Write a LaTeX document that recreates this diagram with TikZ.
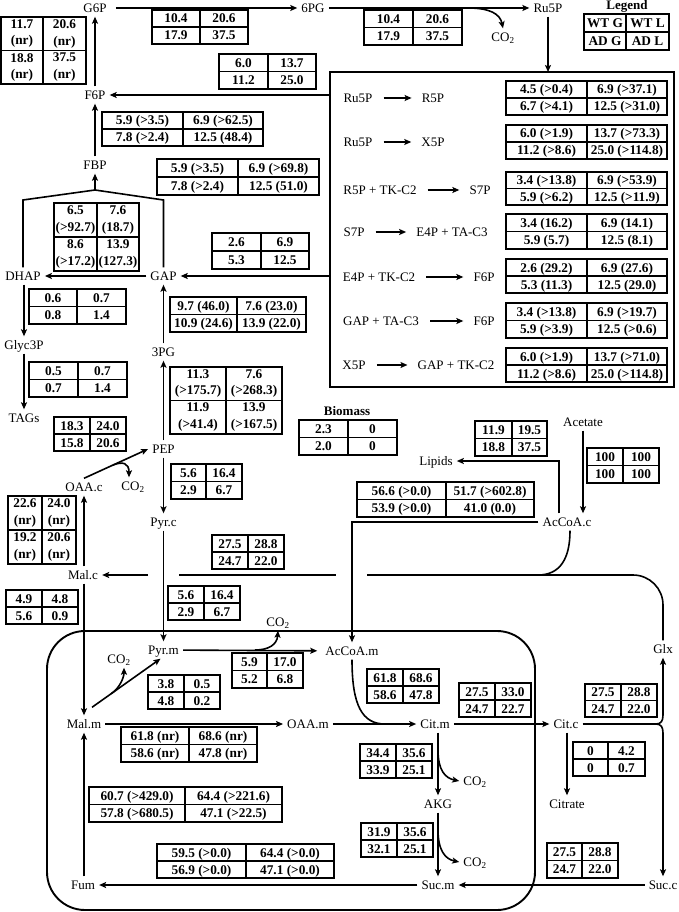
\documentclass[tikz,border=0pt]{standalone}
\usepackage{fontspec}
\setmainfont{Liberation Serif}
\usetikzlibrary{arrows.meta,calc}
\newcounter{flxtc}
\newcommand{\flxtab}[9]{%
 \stepcounter{flxtc}%
 \pgfmathsetmacro\tya{#4+(#5-#4)/4}%
 \pgfmathsetmacro\tyb{#4+3*(#5-#4)/4}%
 \pgfmathsetmacro\tym{(#4+#5)/2}%
 \pgfmathsetmacro\txa{(#1+#2)/2}%
 \pgfmathsetmacro\txb{(#2+#3)/2}%
 \draw[tbline] (#1,#4) rectangle (#3,#5) (#1,\tym) -- (#3,\tym) (#2,#4) -- (#2,#5);
 \node[cell] (t\theflxtc a) at (\txa,\tya) {#6};
 \node[cell] (t\theflxtc b) at (\txb,\tya) {#7};
 \node[cell] (t\theflxtc c) at (\txa,\tyb) {#8};
 \node[cell] (t\theflxtc d) at (\txb,\tyb) {#9};
}
\newcommand{\flxtabb}[9]{%
 \stepcounter{flxtc}%
 \pgfmathsetmacro\tym{(#4+#5)/2}%
 \pgfmathsetmacro\tya{#4+(#5-#4)/4}%
 \pgfmathsetmacro\tyb{#4+3*(#5-#4)/4}%
 \pgfmathsetmacro\txa{(#1+#2)/2}%
 \pgfmathsetmacro\txb{(#2+#3)/2}%
 \draw[tbline] (#1,#4) rectangle (#3,#5) (#1,\tym) -- (#3,\tym) (#2,#4) -- (#2,#5);
 \node[cellii] (t\theflxtc a) at (\txa,\tya) {#6};
 \node[cellii] (t\theflxtc b) at (\txb,\tya) {#7};
 \node[cellii] (t\theflxtc c) at (\txa,\tyb) {#8};
 \node[cellii] (t\theflxtc d) at (\txb,\tyb) {#9};
}
\begin{document}
\begin{tikzpicture}[x=1pt,y=-1pt,
 lab/.style={font=\fontsize{13}{15}\selectfont, text height=9pt, text depth=0pt, inner xsep=4pt, inner ysep=4pt},
 blab/.style={lab, font=\fontsize{13}{15}\selectfont\bfseries},
 arr/.style={-{Stealth[length=7pt,width=6pt,inset=1.5pt]}, line width=1.6pt},
 rarr/.style={arr, shorten <=7pt, shorten >=6pt},
 ln/.style={line width=1.6pt},
 tbline/.style={line width=1.35pt},
 cell/.style={font=\fontsize{13.3}{16.5}\selectfont\bfseries, inner sep=0pt, text height=9pt, text depth=0pt},
 cellii/.style={font=\fontsize{13.3}{16.5}\selectfont\bfseries, inner sep=0pt, align=center},
]
\useasboundingbox (0,0) rectangle (678,912);

% compartments
\node[draw, line width=2.2pt, minimum width=344pt, minimum height=315pt, anchor=north west, inner sep=0pt, outer sep=0pt] (ppp) at (330,72) {};
\node[draw, line width=1.9pt, rounded corners=38pt, minimum width=488pt, minimum height=279pt, anchor=north west, inner sep=0pt, outer sep=0pt] (mito) at (47,631) {};

% metabolites
\node[lab] (g6p) at (95,8) {G6P};
\node[lab] (pg6) at (313,8) {6PG};
\node[lab] (ru5p) at (548,8) {Ru5P};
\node[lab] (co2a) at (503,37) {CO\textsubscript{2}};
\node[blab] (legend) at (627,5) {Legend};
\node[lab] (f6p) at (95,95) {F6P};
\node[lab] (fbp) at (95,165) {FBP};
\node[lab] (dhap) at (23,276) {DHAP};
\node[lab] (gap) at (163.5,276) {GAP};
\node[lab] (glyc) at (24,345) {Glyc3P};
\node[lab] (tags) at (24,418) {TAGs};
\node[lab] (pg3) at (163.5,352) {3PG};
\node[lab] (pep) at (163.5,449) {PEP};
\node[lab] (oaac) at (84,487) {OAA.c};
\node[lab] (co2b) at (133,486) {CO\textsubscript{2}};
\node[lab] (pyrc) at (163.5,522) {Pyr.c};
\node[lab] (malc) at (83,575) {Mal.c};
\node[blab] (biomass) at (347,411) {Biomass};
\node[lab] (lipids) at (436,461) {Lipids};
\node[lab] (acetate) at (583,422) {Acetate};
\node[lab] (accoac) at (567,522) {AcCoA.c};
\node[lab] (pyrm) at (163.5,650) {Pyr.m};
\node[lab] (co2c) at (278,622) {CO\textsubscript{2}};
\node[lab] (accoam) at (352,651) {AcCoA.m};
\node[lab] (co2d) at (119,659) {CO\textsubscript{2}};
\node[lab] (malm) at (84,724) {Mal.m};
\node[lab] (oaam) at (308,724) {OAA.m};
\node[lab] (citm) at (435,724) {Cit.m};
\node[lab] (citc) at (566,724) {Cit.c};
\node[lab] (glx) at (663,649) {Glx};
\node[lab] (citrate) at (567,804) {Citrate};
\node[lab] (co2e) at (475,781) {CO\textsubscript{2}};
\node[lab] (akg) at (438,804) {AKG};
\node[lab] (co2f) at (475,862) {CO\textsubscript{2}};
\node[lab] (sucm) at (438,885) {Suc.m};
\node[lab] (succ) at (663,885) {Suc.c};
\node[lab] (fum) at (83,885) {Fum};

% reactions inside the pentose phosphate box
\node[lab] (ra1) at (358,98) {Ru5P};        \node[lab] (rb1) at (433,98) {R5P};
\node[lab] (ra2) at (358,142) {Ru5P};       \node[lab] (rb2) at (433,142) {X5P};
\node[lab] (ra3) at (380,190) {R5P + TK-C2}; \node[lab] (rb3) at (480,190) {S7P};
\node[lab] (ra4) at (354,232) {S7P};        \node[lab] (rb4) at (452,232) {E4P + TA-C3};
\node[lab] (ra5) at (379,277) {E4P + TK-C2}; \node[lab] (rb5) at (484,277) {F6P};
\node[lab] (ra6) at (381,321) {GAP + TA-C3}; \node[lab] (rb6) at (484,321) {F6P};
\node[lab] (ra7) at (354,365) {X5P};        \node[lab] (rb7) at (456,365) {GAP + TK-C2};
\foreach \i in {1,...,7} \draw[rarr] (ra\i) -- (rb\i);

% connectors
\draw[arr, shorten <=5pt] (g6p) -- (pg6);
\draw[arr] (pg6) -- (ru5p);
\coordinate (c1) at (468,8);
\draw[arr] (c1) .. controls (490,8) and (500,14) .. (co2a.north);
\draw[arr] (ru5p) -- (ru5p |- ppp.north);
\draw[arr] (ppp.west |- f6p) -- (f6p);
\draw[arr] (f6p) -- (g6p);
\draw[arr] (fbp) -- (f6p);
\coordinate (apex) at (95,190);
\coordinate (ytop) at (0,200);
\draw[ln] (dhap.north) -- (dhap.north |- ytop) -- (apex) -- (gap.north |- ytop) -- (gap.north);
\draw[arr] (apex) -- (fbp);
\draw[arr] (gap) -- (dhap);
\draw[arr] (ppp.west |- gap) -- (gap);
\draw[arr] (glyc.north |- dhap.south) -- (glyc.north);
\draw[arr] (glyc) -- (tags);
\draw[arr] (pg3) -- (gap);
\draw[arr] (pep) -- (pg3);
\draw[arr] (oaac.north) -- (pep.west);
\coordinate (c2) at ($(oaac.north)!0.45!(pep.west)$);
\draw[arr] (c2) .. controls ($(c2)+(10,-4)$) and (129,463) .. ([xshift=-4pt]co2b.north);
\draw[arr] (pep) -- (pyrc);
\draw[arr] (oaac.south |- malc.north) -- (oaac.south);
\coordinate (h1) at (148,575);
\coordinate (h2) at (179,575);
\coordinate (h3) at (336,575);
\coordinate (h4) at (367,575);
\coordinate (h5) at (538,575);
\draw[arr] (h1) -- (malc);
\draw[ln] (h2) -- (h3);
\draw[ln, rounded corners=30pt] (glx.north) |- (h4);
\draw[ln] ([xshift=3pt]accoac.south) .. controls +(0,28) and +(22,0) .. (h5);
\draw[arr] (pyrc) -- (pyrm);
\draw[arr] (accoac.west) -| (accoam.north);
\draw[arr] ([xshift=-8pt]accoac.north) |- (lipids);
\draw[arr] (acetate) -- (acetate |- accoac.north);
\draw[arr] (malm.north |- malc.south) -- (malm.north);
\draw[arr, shorten >=4pt] (pyrm) -- (accoam);
\coordinate (c3) at (255,650);
\draw[arr] (c3) .. controls (268,650) and (277,645) .. (co2c.south);
\coordinate (m1) at ([shift={(8,-8)}]malm.north);
\coordinate (m2) at ([xshift=-3pt]pyrm.south);
\draw[arr] (m1) -- (m2);
\coordinate (c4) at ($(m1)!0.28!(m2)$);
\draw[arr] (c4) .. controls +(8,-5) and +(0,10) .. ([xshift=5pt]co2d.south);
\draw[arr] (malm) -- (oaam);
\draw[arr] (oaam) -- (citm);
\coordinate (j1) at (385,724);
\draw[ln] (accoam.south) .. controls (352,705) and (362,724) .. (j1);
\draw[arr] (citm) -- (citc);
\coordinate (br) at (656,724);
\draw[ln] (citc) -- (br);
\draw[arr] (br) .. controls (661,724) and (663,721) .. (663,715) -- (glx.south);
\draw[arr] (br) .. controls (661,724) and (663,727) .. (663,733) -- (succ.north);
\draw[arr] (citrate.north |- citc.south) -- (citrate.north);
\draw[arr] (akg.north |- citm.south) -- (akg.north);
\coordinate (c5) at (438,750);
\draw[arr] (c5) .. controls (438,770) and (445,778) .. (co2e.west);
\draw[arr] (akg) -- (sucm);
\coordinate (c6) at (438,830);
\draw[arr] (c6) .. controls (438,850) and (445,859) .. (co2f.west);
\draw[arr] (succ) -- (sucm);
\draw[arr] (sucm) -- (fum);
\draw[arr] (malm.south |- fum.north) -- (malm.south);

% tables
\flxtabb{1}{43}{86}{17}{84}{11.7\\(nr)}{20.6\\(nr)}{18.8\\(nr)}{37.5\\(nr)}
\flxtab{152}{200}{248}{10}{44}{10.4}{20.6}{17.9}{37.5}
\flxtab{364}{413}{462}{10}{45}{10.4}{20.6}{17.9}{37.5}
\flxtab{584}{626}{669}{14}{50}{WT G}{WT L}{AD G}{AD L}
\flxtab{219}{268}{316}{54}{89}{6.0}{13.7}{11.2}{25.0}
\flxtab{102}{183}{263}{112}{146}{5.9 (>3.5)}{6.9 (>62.5)}{7.8 (>2.4)}{12.5 (48.4)}
\flxtab{157}{238}{319}{159}{195}{5.9 (>3.5)}{6.9 (>69.8)}{7.8 (>2.4)}{12.5 (51.0)}
\flxtabb{54}{97}{139}{203}{271}{6.5\\(>92.7)}{7.6\\(18.7)}{8.6\\(>17.2)}{13.9\\(127.3)}
\flxtab{212}{261}{309}{233}{269}{2.6}{6.9}{5.3}{12.5}
\flxtab{29}{77}{126}{289}{324}{0.6}{0.7}{0.8}{1.4}
\flxtab{29}{78}{127}{362}{397}{0.5}{0.7}{0.7}{1.4}
\flxtab{170}{237}{306}{297}{332}{9.7 (46.0)}{7.6 (23.0)}{10.9 (24.6)}{13.9 (22.0)}
\flxtabb{170}{226}{282}{367}{434}{11.3\\(>175.7)}{7.6\\(>268.3)}{11.9\\(>41.4)}{13.9\\(>167.5)}
\flxtab{54}{90}{126}{417}{451}{18.3}{24.0}{15.8}{20.6}
\flxtab{299}{348}{397}{420}{455}{2.3}{0}{2.0}{0}
\draw[line width=2pt] (348,420) -- (348,455);
\flxtab{171}{206}{242}{464}{499}{5.6}{16.4}{2.9}{6.7}
\flxtab{475}{512}{547}{421}{456}{11.9}{19.5}{18.8}{37.5}
\flxtab{587}{623}{659}{448}{483}{100}{100}{100}{100}
\flxtab{357}{446}{534}{482}{517}{56.6 (>0.0)}{51.7 (>602.8)}{53.9 (>0.0)}{41.0 (0.0)}
\flxtabb{8}{42}{76}{496}{564}{22.6\\(nr)}{24.0\\(nr)}{19.2\\(nr)}{20.6\\(nr)}
\flxtab{212}{248}{284}{535}{569}{27.5}{28.8}{24.7}{22.0}
\flxtab{6}{42}{78}{590}{624}{4.9}{4.8}{5.6}{0.9}
\flxtab{168}{204}{240}{586}{620}{5.6}{16.4}{2.9}{6.7}
\flxtab{232}{267}{303}{653}{688}{5.9}{17.0}{5.2}{6.8}
\flxtab{148}{184}{220}{675}{709}{3.8}{0.5}{4.8}{0.2}
\flxtab{121}{189}{257}{727}{762}{61.8 (nr)}{68.6 (nr)}{58.6 (nr)}{47.8 (nr)}
\flxtab{367}{403}{439}{669}{703}{61.8}{68.6}{58.6}{47.8}
\flxtab{459}{495}{531}{683}{717}{27.5}{33.0}{24.7}{22.7}
\flxtab{585}{621}{657}{684}{717}{27.5}{28.8}{24.7}{22.0}
\flxtab{573}{608}{645}{742}{776}{0}{4.2}{0}{0.7}
\flxtab{360}{396}{432}{744}{778}{34.4}{35.6}{33.9}{25.1}
\flxtab{361}{397}{433}{823}{857}{31.9}{35.6}{32.1}{25.1}
\flxtab{547}{582}{618}{843}{878}{27.5}{28.8}{24.7}{22.0}
\flxtab{89}{185}{282}{787}{822}{60.7 (>429.0)}{64.4 (>221.6)}{57.8 (>680.5)}{47.1 (>22.5)}
\flxtab{157}{246}{334}{844}{878}{59.5 (>0.0)}{64.4 (>0.0)}{56.9 (>0.0)}{47.1 (>0.0)}
% tables in the pentose phosphate box
\flxtab{506}{587}{667}{81}{115}{4.5 (>0.4)}{6.9 (>37.1)}{6.7 (>4.1)}{12.5 (>31.0)}
\flxtab{506}{587}{667}{125}{159}{6.0 (>1.9)}{13.7 (>73.3)}{11.2 (>8.6)}{25.0 (>114.8)}
\flxtab{506}{587}{667}{172}{205}{3.4 (>13.8)}{6.9 (>53.9)}{5.9 (>6.2)}{12.5 (>11.9)}
\flxtab{506}{587}{667}{214}{249}{3.4 (16.2)}{6.9 (14.1)}{5.9 (5.7)}{12.5 (8.1)}
\flxtab{506}{587}{667}{259}{293}{2.6 (29.2)}{6.9 (27.6)}{5.3 (11.3)}{12.5 (29.0)}
\flxtab{506}{587}{667}{303}{338}{3.4 (>13.8)}{6.9 (>19.7)}{5.9 (>3.9)}{12.5 (>0.6)}
\flxtab{506}{587}{667}{348}{382}{6.0 (>1.9)}{13.7 (>71.0)}{11.2 (>8.6)}{25.0 (>114.8)}
\end{tikzpicture}
\end{document}
